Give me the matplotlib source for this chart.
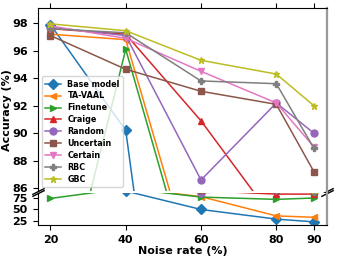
import numpy as np
import matplotlib
matplotlib.use("Agg")
import matplotlib.pyplot as plt

plt.rcParams["font.family"] = ["DejaVu Sans"]
plt.rcParams["font.weight"] = "bold"

noise = [20, 40, 60, 80, 90]
metodos = ["Base model", "TA-VAAL", "Finetune", "Craige", "Random",
           "Uncertain", "Certain", "RBC", "GBC"]
base_model = [97.9, 90.2, 50.0, 29.0, 23.0]
ta_vaal = [97.2, 96.8, 78.0, 36.0, 33.0]
finetune = [74.0, 96.1, 77.0, 72.0, 75.0]
craige = [97.6, 97.2, 90.9, 83.5, 83.5]
random_ = [97.7, 97.1, 86.6, 92.2, 90.0]
uncertain = [97.1, 94.65, 93.05, 92.1, 87.2]
certain = [97.8, 96.9, 94.5, 92.2, 89.0]
rbc = [97.6, 97.3, 93.8, 93.6, 88.9]
gbc = [97.95, 97.45, 95.3, 94.3, 92.0]
series = [base_model, ta_vaal, finetune, craige, random_, uncertain, certain, rbc, gbc]
marcadores = ["D", "<", ">", "^", "o", "s", "v", "P", "*"]
colores = ["C0", "C1", "C2", "C3", "C4", "C5", "C6", "C7", "C8"]

fig = plt.figure(figsize=(3.39, 2.59), dpi=100)
ax1 = fig.add_axes([0.111, 0.2625, 0.854, 0.7065])
ax2 = fig.add_axes([0.111, 0.131, 0.854, 0.124])

for ax in (ax1, ax2):
    for nombre, valores, m, c in zip(metodos, series, marcadores, colores):
        ax.plot(noise, valores, marker=m, color=c, label=nombre,
                markersize=5, linewidth=1.1)
    ax.set_xlim(16.6, 93.5)
    ax.spines["right"].set_color("0.6")
    ax.spines["right"].set_linewidth(1.6)

ax1.set_ylim(85.8, 99.1)
ax2.set_ylim(16, 86)
ax1.set_yticks([86, 88, 90, 92, 94, 96, 98])
ax2.set_yticks([25, 50, 75])
ax1.set_xticks(noise)
ax2.set_xticks(noise)

ax1.spines["bottom"].set_visible(False)
ax2.spines["top"].set_visible(False)
ax1.xaxis.tick_top()
ax1.tick_params(labeltop=False)
ax2.xaxis.tick_bottom()

for ax in (ax1, ax2):
    ax.tick_params(labelsize=8)
    for t in ax.get_xticklabels() + ax.get_yticklabels():
        t.set_fontweight("bold")

# marcas de corte
kw = dict(marker=[(-1, -0.5), (1, 0.5)], markersize=9, linestyle="none",
          color="k", mec="k", mew=1, clip_on=False)
ax1.plot([0, 1], [0, 0], transform=ax1.transAxes, **kw)
ax2.plot([0, 1], [1, 1], transform=ax2.transAxes, **kw)

ax1.legend(loc="lower left", bbox_to_anchor=(0.0, 0.0), labelspacing=0.36,
           prop={"weight": "bold", "size": 5.8})

ax2.set_xlabel("Noise rate (%)", fontsize=8, fontweight="bold", labelpad=1)
fig.text(0.022, 0.575, "Accuracy (%)", rotation=90, fontsize=8,
         fontweight="bold", ha="center", va="center")

plt.savefig("out.png", dpi=100)
